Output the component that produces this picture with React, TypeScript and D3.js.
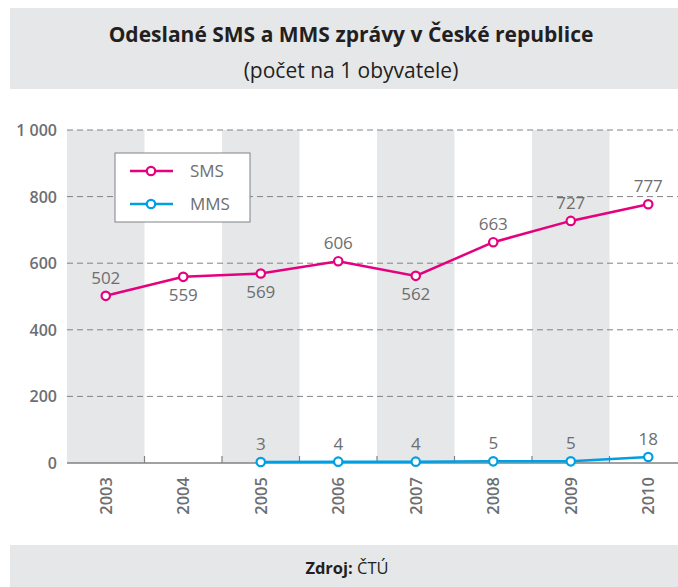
import React, { useEffect, useRef } from "react";
import * as d3 from "d3";

const years = ["2003", "2004", "2005", "2006", "2007", "2008", "2009", "2010"];
const smsValues = [502, 559, 569, 606, 562, 663, 727, 777];
const mmsYears = ["2005", "2006", "2007", "2008", "2009", "2010"];
const mmsValues = [3, 4, 4, 5, 5, 18];
const smsLabelBelow = [false, true, true, false, true, false, false, false];
const yTicks = [0, 200, 400, 600, 800, 1000];

const SMS_COLOR = "#e5007e";
const MMS_COLOR = "#009fe3";
const TEXT = "#6d6e71";
const FONT = "'Open Sans', 'Noto Sans', sans-serif";

const App = () => {
  const ref = useRef<HTMLDivElement>(null);

  useEffect(() => {
    const W = 678;
    const H = 587;
    d3.select(ref.current).selectAll("*").remove();
    const svg = d3
      .select(ref.current)
      .append("svg")
      .attr("width", W)
      .attr("height", H)
      .style("display", "block")
      .style("font-family", FONT);

    svg.append("rect").attr("width", W).attr("height", H).attr("fill", "#fff");

    // header
    svg.append("rect").attr("x", 10).attr("y", 8).attr("width", W - 10).attr("height", 81).attr("fill", "#e6e7e8");
    svg.append("text").attr("x", 351).attr("y", 42).attr("text-anchor", "middle")
      .attr("font-size", 21).attr("font-weight", 700).attr("fill", "#231f20")
      .text("Odeslané SMS a MMS zprávy v České republice");
    svg.append("text").attr("x", 351).attr("y", 78).attr("text-anchor", "middle")
      .attr("font-size", 21).attr("fill", "#231f20")
      .text("(počet na 1 obyvatele)");

    // footer
    svg.append("rect").attr("x", 10).attr("y", 545).attr("width", W - 10).attr("height", 42).attr("fill", "#e6e7e8");
    const src = svg.append("text").attr("x", 347).attr("y", 574).attr("text-anchor", "middle")
      .attr("font-size", 16.5).attr("fill", "#231f20");
    src.append("tspan").attr("font-weight", 700).text("Zdroj: ");
    src.append("tspan").text("ČTÚ");

    const left = 67;
    const step = 77.5;
    const x = d3.scaleBand().domain(years).range([left, left + step * years.length]);
    const y = d3.scaleLinear().domain([0, 1000]).range([463, 130]);
    const cx = (d: string) => (x(d) as number) + x.bandwidth() / 2;

    // shaded bands
    svg.append("g").selectAll("rect")
      .data(years.filter((_, i) => i % 2 === 0))
      .enter().append("rect")
      .attr("x", (d) => x(d) as number)
      .attr("y", y(1000))
      .attr("width", x.bandwidth())
      .attr("height", y(0) - y(1000))
      .attr("fill", "#e6e7e8");

    // gridlines
    svg.append("g").selectAll("line")
      .data(yTicks.filter((t) => t > 0))
      .enter().append("line")
      .attr("x1", left).attr("x2", W)
      .attr("y1", (d) => y(d)).attr("y2", (d) => y(d))
      .attr("stroke", "#808285").attr("stroke-width", 1)
      .attr("stroke-dasharray", "6,4");

    // y labels
    svg.append("g").selectAll("text")
      .data(yTicks)
      .enter().append("text")
      .attr("x", 57).attr("y", (d) => y(d) + 6)
      .attr("text-anchor", "end")
      .attr("font-size", 16).attr("font-weight", 600).attr("fill", TEXT)
      .text((d) => d3.format(",")(d).replace(",", " "));

    // x axis
    svg.append("line").attr("x1", left).attr("x2", W).attr("y1", y(0)).attr("y2", y(0))
      .attr("stroke", "#808285").attr("stroke-width", 1.5);
    svg.append("g").selectAll("line")
      .data(years.slice(1))
      .enter().append("line")
      .attr("x1", (d) => x(d) as number).attr("x2", (d) => x(d) as number)
      .attr("y1", y(0) - 7).attr("y2", y(0))
      .attr("stroke", "#808285").attr("stroke-width", 1.2);
    svg.append("g").selectAll("text")
      .data(years)
      .enter().append("text")
      .attr("transform", (d) => `translate(${cx(d) + 6},477) rotate(-90)`)
      .attr("text-anchor", "end")
      .attr("font-size", 16.5).attr("font-weight", 600).attr("fill", TEXT)
      .text((d) => d);

    const line = d3.line<[string, number]>().x((d) => cx(d[0])).y((d) => y(d[1]));

    const drawSeries = (ys: string[], vs: number[], color: string, below: boolean[]) => {
      const pts: [string, number][] = ys.map((d, i) => [d, vs[i]]);
      svg.append("path").datum(pts).attr("d", line).attr("fill", "none")
        .attr("stroke", color).attr("stroke-width", 2.5);
      svg.append("g").selectAll("circle").data(pts).enter().append("circle")
        .attr("cx", (d) => cx(d[0])).attr("cy", (d) => y(d[1])).attr("r", 4.2)
        .attr("fill", "#fff").attr("stroke", color).attr("stroke-width", 2.2);
      svg.append("g").selectAll("text").data(pts).enter().append("text")
        .attr("x", (d) => cx(d[0]))
        .attr("y", (d, i) => (below[i] ? y(d[1]) + 24 : y(d[1]) - 12))
        .attr("text-anchor", "middle").attr("font-size", 17).attr("fill", TEXT)
        .text((d) => d[1]);
    };

    drawSeries(years, smsValues, SMS_COLOR, smsLabelBelow);
    drawSeries(mmsYears, mmsValues, MMS_COLOR, mmsValues.map(() => false));

    // legend
    const lg = svg.append("g");
    lg.append("rect").attr("x", 115).attr("y", 153).attr("width", 135).attr("height", 69)
      .attr("fill", "#fff").attr("stroke", "#808285").attr("stroke-width", 1);
    [["SMS", SMS_COLOR], ["MMS", MMS_COLOR]].forEach(([name, color], i) => {
      const ly = 171 + i * 33;
      lg.append("line").attr("x1", 130).attr("x2", 173).attr("y1", ly).attr("y2", ly)
        .attr("stroke", color).attr("stroke-width", 2.5);
      lg.append("circle").attr("cx", 151).attr("cy", ly).attr("r", 4.2)
        .attr("fill", "#fff").attr("stroke", color).attr("stroke-width", 2.2);
      lg.append("text").attr("x", 190).attr("y", ly + 6).attr("font-size", 17).attr("fill", TEXT).text(name);
    });
  }, []);

  return <div ref={ref} style={{ position: "absolute", left: 0, top: 0 }} />;
};

export default App;
